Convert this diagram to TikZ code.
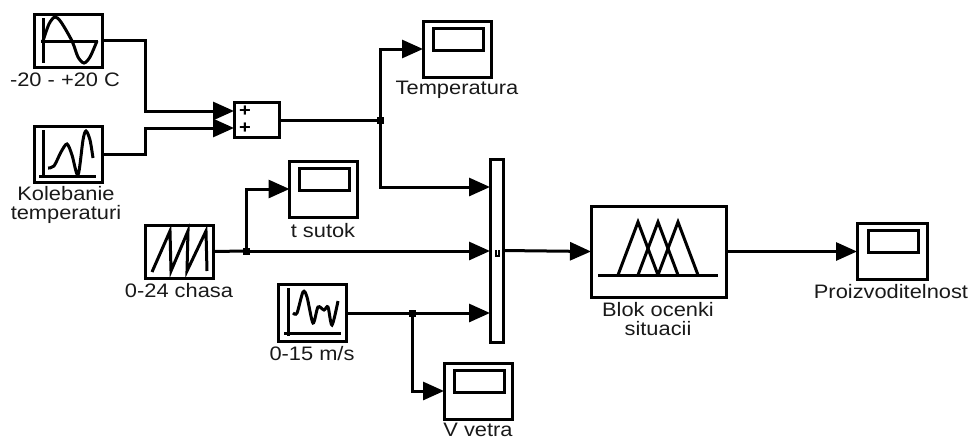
\documentclass[tikz,border=0pt]{standalone}
\usepackage{fontspec}
\setmainfont[FakeStretch=1.12]{Liberation Sans}
\usetikzlibrary{arrows.meta}
\tikzset{
  blockbox/.style={draw, line width=3pt, inner sep=0pt, outer sep=0pt, fill=white},
  screenbox/.style={blockbox, minimum width=50pt, minimum height=22pt},
  scopebox/.style={blockbox, minimum width=68pt, minimum height=56pt},
  icon/.style={line width=3pt},
  blocklabel/.style={font=\fontsize{19.5}{19.5}\selectfont, align=center, inner sep=0pt, text=black!90},
  wire/.style={line width=3pt, -{Triangle[length=21pt,width=18pt]}},
  plainwire/.style={line width=3pt},
  joint/.style={fill, inner sep=0pt, minimum size=7pt}
}
\begin{document}
\begin{tikzpicture}[x=1pt,y=-1pt]
\useasboundingbox (0,0) rectangle (972,439);

% sources
\node[blockbox, minimum width=68pt, minimum height=53pt] (sine) at (68,40.5) {};
\node[blockbox, minimum width=68pt, minimum height=56pt] (kolebanie) at (68,154) {};
\node[blockbox, minimum width=68pt, minimum height=53pt] (chasa) at (179,251.5) {};
\node[blockbox, minimum width=68pt, minimum height=57pt] (wind) at (312.5,313) {};

% sum, mux, fuzzy
\node[blockbox, minimum width=45pt, minimum height=35pt] (sum) at (256.5,120) {};
\node[blockbox, minimum width=13pt, minimum height=183pt] (mux) at (496.5,250.5) {};
\node[blockbox, minimum width=135pt, minimum height=91pt] (fuzzy) at (658.5,251.5) {};

% scopes
\node[scopebox] (temp) at (457,49) {};
\node[scopebox] (tsutok) at (323.5,189) {};
\node[scopebox] (vvetra) at (478,391) {};
\node[scopebox, minimum width=70pt] (proizv) at (892,251.5) {};
\foreach \s in {temp,tsutok,vvetra,proizv}
  \node[screenbox] (\s screen) at ([xshift=1pt,yshift=10pt]\s.center) {};

% labels
\node[blocklabel] (sinelabel) at (65,80) {-20 - +20 C};
\node[blocklabel] (kolebanielabel) at (66,205) {Kolebanie\\temperaturi};
\node[blocklabel] (chasalabel) at (179,291) {0-24 chasa};
\node[blocklabel] (windlabel) at (312,354) {0-15 m/s};
\node[blocklabel] (templabel) at (457,90) {Temperatura};
\node[blocklabel] (tsutoklabel) at (323,231) {t sutok};
\node[blocklabel] (vvetralabel) at (478,430) {V vetra};
\node[blocklabel] (fuzzylabel) at (658,319) {Blok ocenki\\situacii};
\node[blocklabel] (proizvlabel) at (891,292) {Proizvoditelnost};
\node[font=\bfseries\fontsize{18}{18}\selectfont, inner sep=0pt] (plusa) at (245,111) {+};
\node[font=\bfseries\fontsize{18}{18}\selectfont, inner sep=0pt] (plusb) at (245,128) {+};

% icons
\draw[icon] (43,18) -- (43,63);
\draw[icon] (41,41) -- (98,41);
\draw[icon] plot[smooth] coordinates {(43,41) (49,24) (55,17) (61,22) (72,41) (78,57) (84,63) (90,57) (97,41)};
\draw[icon] (43,130) -- (43,178);
\draw[icon] (39,176) -- (96,176);
\draw[icon] plot[smooth, tension=0.5] coordinates {(48,168) (54,166) (61,152) (67,144) (72,155) (78,175) (83,140) (86,131) (90,140) (93,158)};
\draw[icon, line join=miter] (152,272) -- (170,231) -- (171,271) -- (188,231) -- (187,271) -- (206,231) -- (207,271);
\draw[icon] (288,288) -- (288,336);
\draw[icon] (284,333) -- (341,333);
\draw[icon] plot[smooth, tension=0.5] coordinates {(293,313) (297,313) (303,292) (307,297) (313,323) (318,307) (324,310) (328,307) (332,325) (338,301)};
\draw[icon] (598,275) -- (718,275);
\draw[icon] (618,275) -- (638,222) -- (658,275);
\draw[icon] (638,275) -- (658,222) -- (678,275);
\draw[icon] (658,275) -- (678,222) -- (698,275);
\draw[line width=1.2pt] (496,250) -- (496,256) -- (499,256) -- (499,250);

% branch points
\node[joint] (jtemp) at (380,120) {};
\node[joint] (jtime) at (246,251) {};
\node[joint] (jwind) at (412,313) {};
\coordinate (sumina) at (sum.west |- plusa);
\coordinate (suminb) at (sum.west |- plusb);
\coordinate (muxina) at (mux.west |- 0,187);
\coordinate (muxinb) at (mux.west |- jtime);
\coordinate (muxinc) at (mux.west |- jwind);
\coordinate (benda) at (145,111);
\coordinate (bendb) at (145,128);

% connectors
\draw[wire] (sine.east) -| (benda) -- (sumina);
\draw[wire] (kolebanie.east) -| (bendb) -- (suminb);
\draw[plainwire] (sum.east) -- (jtemp.center);
\draw[wire] (jtemp.center) |- (temp.west);
\draw[wire] (jtemp.center) |- (muxina);
\draw[plainwire] (chasa.east) -- (jtime.center);
\draw[wire] (jtime.center) |- (tsutok.west);
\draw[wire] (jtime.center) -- (muxinb);
\draw[plainwire] (wind.east) -- (jwind.center);
\draw[wire] (jwind.center) -- (muxinc);
\draw[wire] (jwind.center) |- (vvetra.west);
\draw[wire] (mux.east) -- (fuzzy.west);
\draw[wire] (fuzzy.east) -- (proizv.west);
\end{tikzpicture}
\end{document}
